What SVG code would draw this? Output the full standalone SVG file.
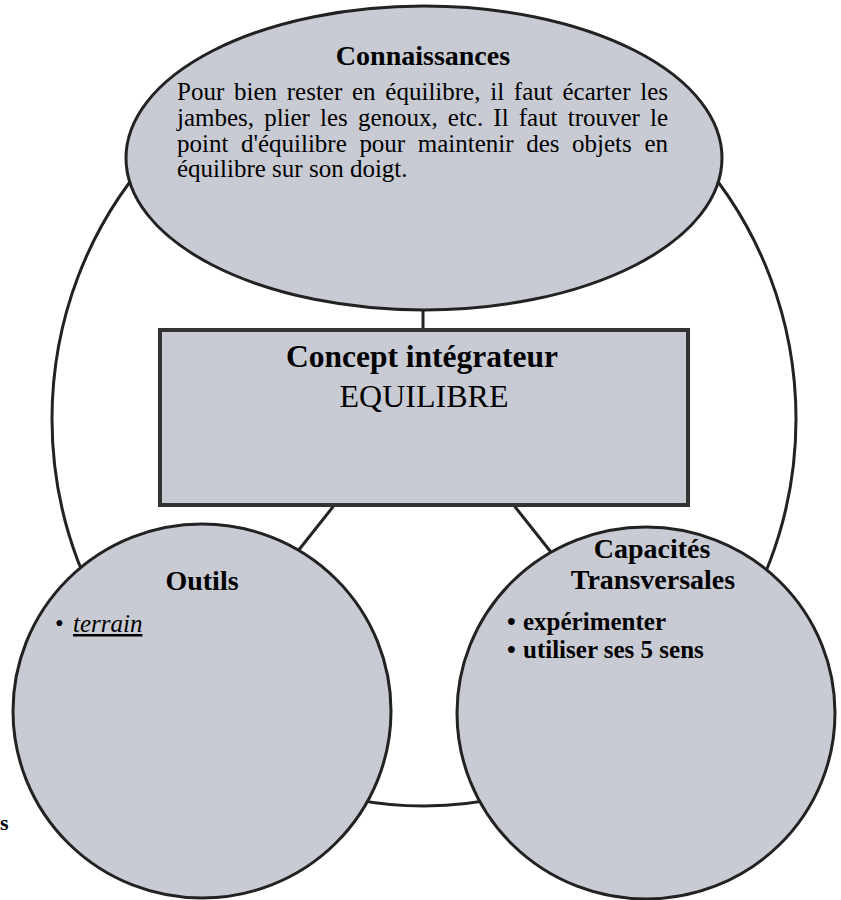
<svg xmlns="http://www.w3.org/2000/svg" width="841" height="900" viewBox="0 0 841 900">
<style>
.node{fill:#c8cbd3;stroke:#222;stroke-width:3}
.box{fill:#c8cbd3;stroke:#333;stroke-width:4}
.conn{fill:none;stroke:#222;stroke-width:3}
.t{font-family:"Liberation Serif","Times New Roman",serif;fill:#000}
.b{font-weight:bold}
</style>
<rect width="841" height="900" fill="#fff"/>
<g id="connectors">
<ellipse class="conn" cx="424" cy="419" rx="372" ry="387"/>
<line class="conn" x1="423" y1="305" x2="423" y2="332"/>
<line class="conn" x1="336" y1="503" x2="294" y2="556"/>
<line class="conn" x1="512" y1="503" x2="554" y2="556"/>
</g>
<g id="connaissances">
<ellipse class="node" cx="424" cy="158" rx="298" ry="152"/>
<text class="t b" x="423" y="65" font-size="28" text-anchor="middle">Connaissances</text>
<text class="t" font-size="25">
<tspan x="177" y="100" word-spacing="3.5" textLength="491" lengthAdjust="spacing">Pour bien rester en équilibre, il faut écarter les</tspan>
<tspan x="177" y="126" word-spacing="3.9" textLength="491" lengthAdjust="spacing">jambes, plier les genoux, etc. Il faut trouver le</tspan>
<tspan x="177" y="152" word-spacing="6.4" textLength="491" lengthAdjust="spacing">point d'équilibre pour maintenir des objets en</tspan>
<tspan x="177" y="177">équilibre sur son doigt.</tspan>
</text>
</g>
<g id="concept">
<rect class="box" x="160" y="330" width="528" height="175"/>
<text class="t b" x="422" y="367" font-size="31.5" text-anchor="middle">Concept intégrateur</text>
<text class="t" x="424" y="407" font-size="32" text-anchor="middle">EQUILIBRE</text>
</g>
<g id="outils">
<ellipse class="node" cx="202" cy="711" rx="189" ry="187"/>
<text class="t b" x="202" y="590" font-size="28" text-anchor="middle">Outils</text>
<text class="t" x="55" y="632" font-size="25">•</text>
<text class="t" x="73" y="632" font-size="25" font-style="italic" text-decoration="underline">terrain</text>
</g>
<g id="capacites">
<ellipse class="node" cx="646" cy="713" rx="189" ry="186"/>
<text class="t b" x="652" y="558" font-size="28" text-anchor="middle">Capacités</text>
<text class="t b" x="653" y="589" font-size="28" text-anchor="middle">Transversales</text>
<text class="t b" x="507" y="630" font-size="25">•</text>
<text class="t b" x="523" y="630" font-size="25">expérimenter</text>
<text class="t b" x="507" y="658" font-size="25">•</text>
<text class="t b" x="523" y="658" font-size="25">utiliser ses 5 sens</text>
</g>
<text class="t b" x="0" y="830" font-size="22">s</text>
</svg>
